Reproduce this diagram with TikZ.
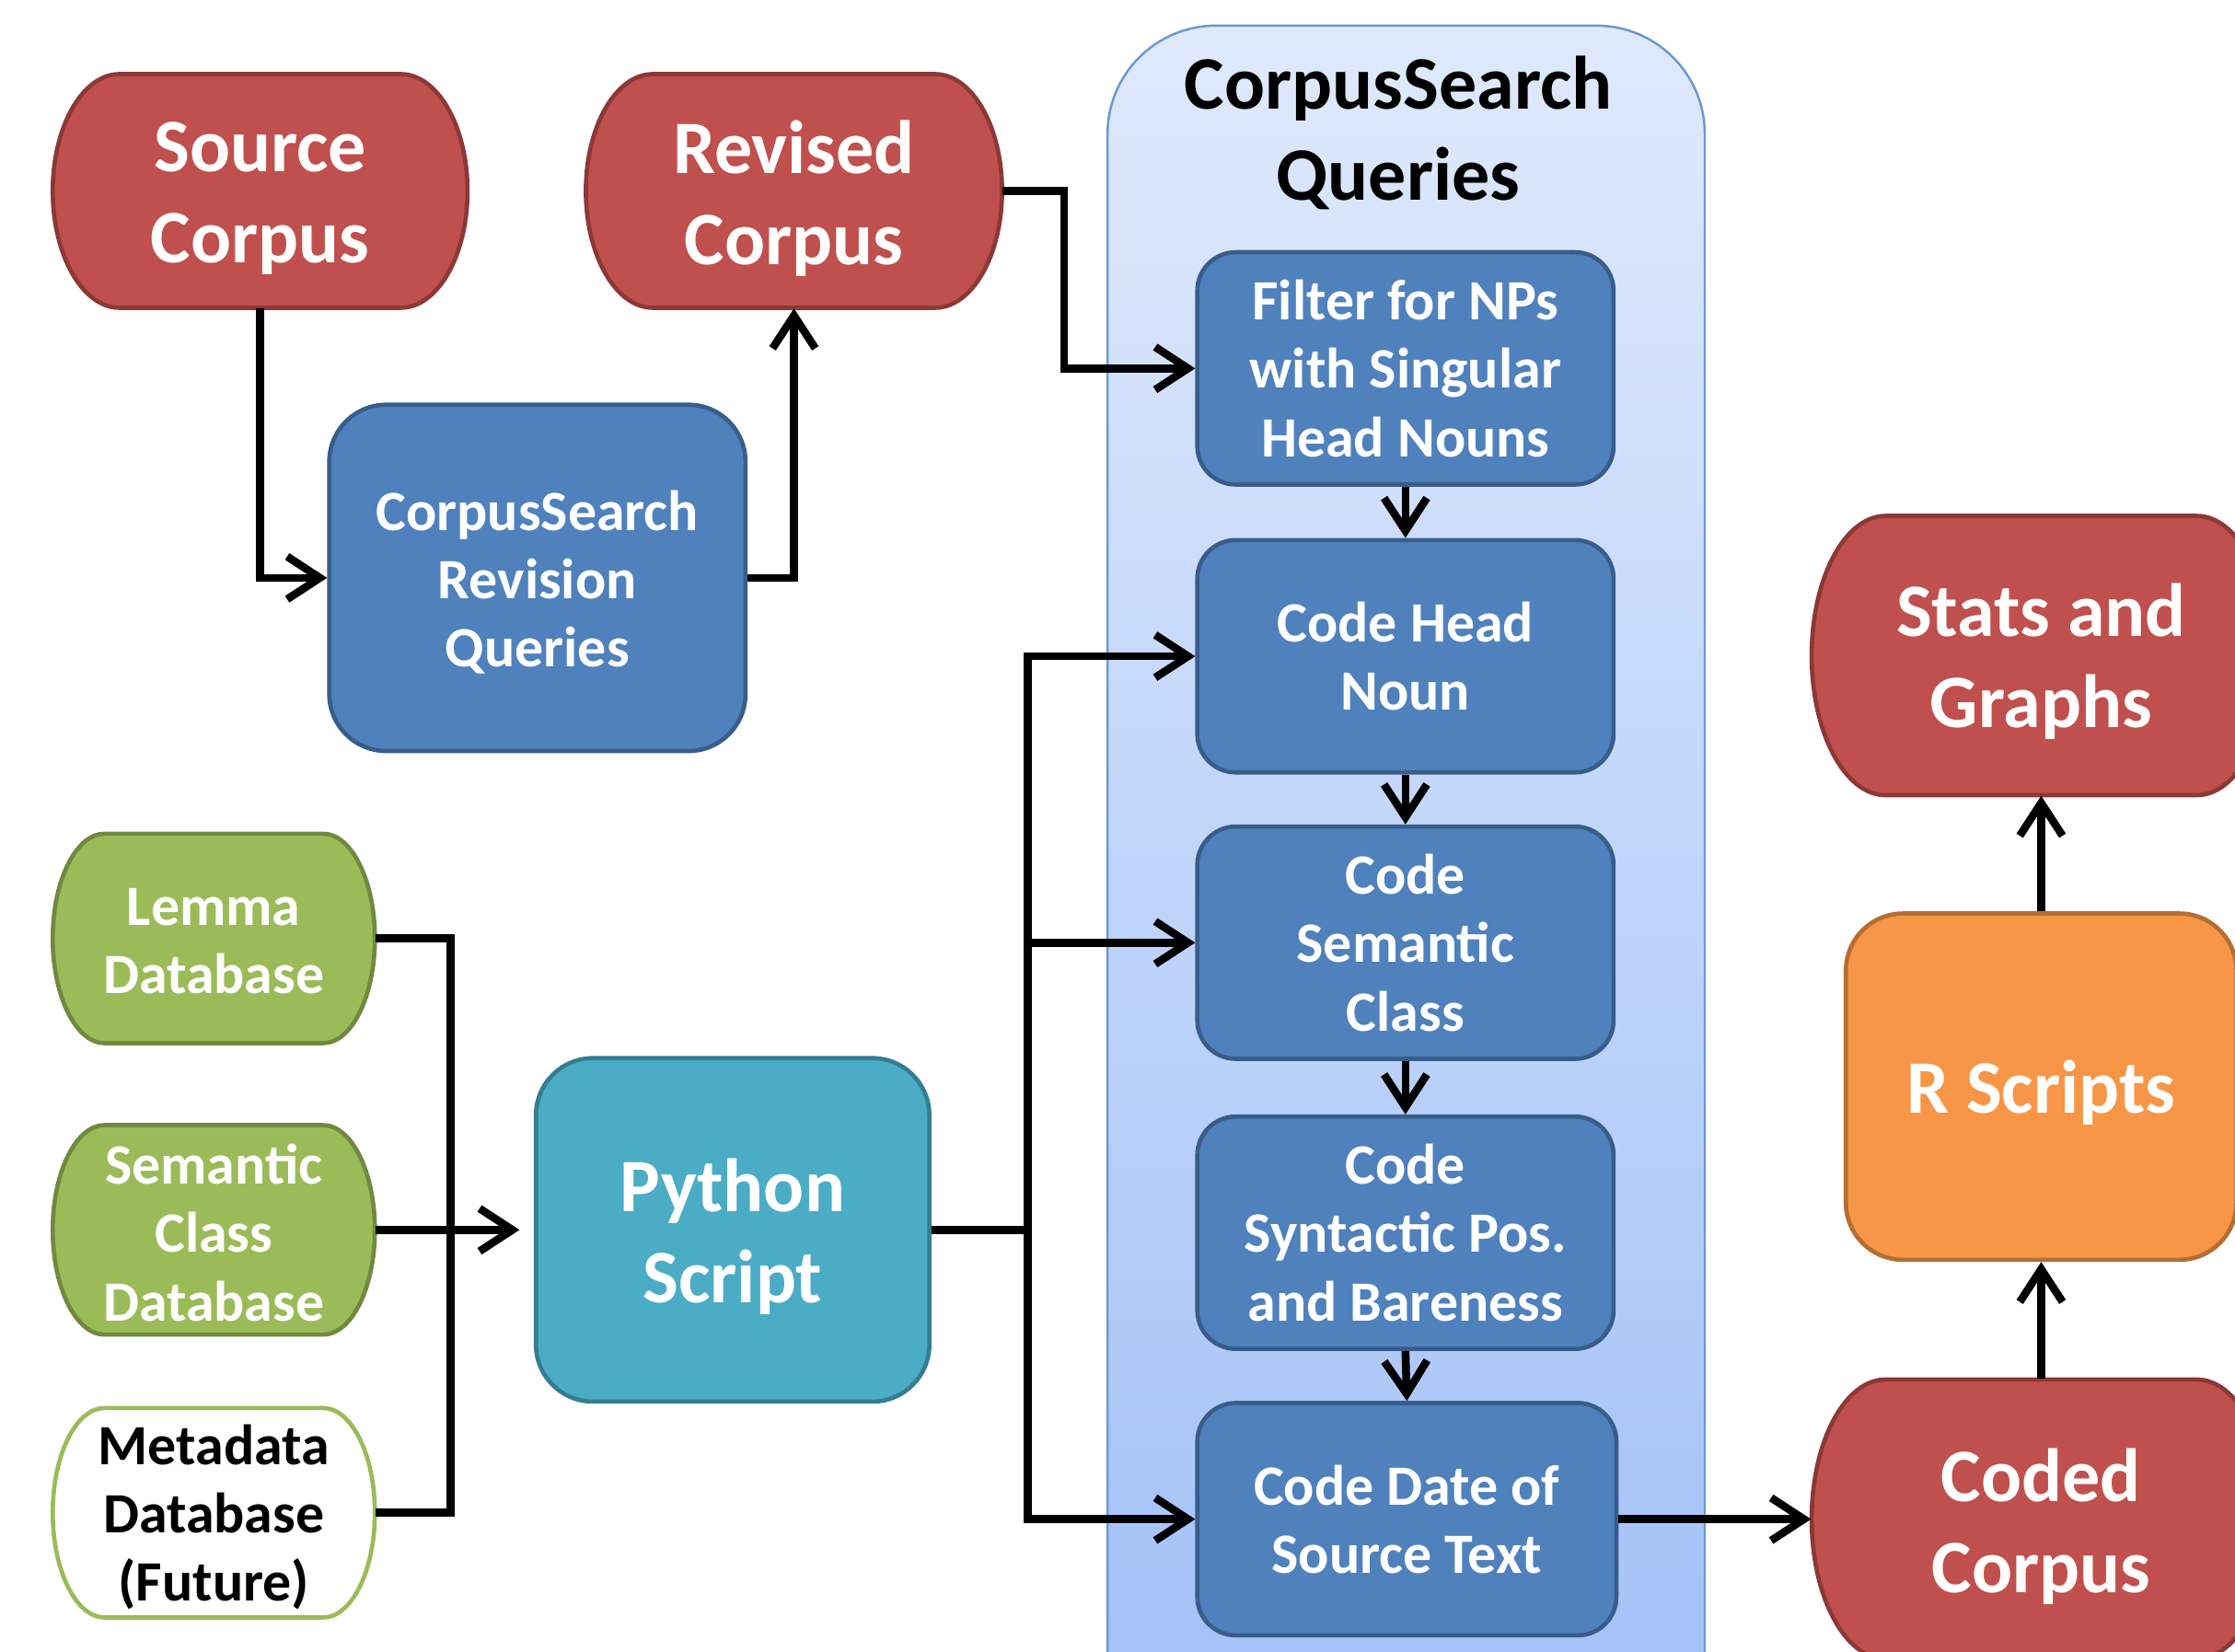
\documentclass[tikz,border=0pt]{standalone}
\usepackage{fontspec}
\setmainfont{Carlito}
\usetikzlibrary{arrows.meta}
\definecolor{cRed}{HTML}{C0504D}
\definecolor{cRedD}{HTML}{8C3836}
\definecolor{cBlue}{HTML}{4F81BD}
\definecolor{cBlueD}{HTML}{385D8A}
\definecolor{cGreen}{HTML}{9BBB59}
\definecolor{cGreenD}{HTML}{71893F}
\definecolor{cTeal}{HTML}{4BACC6}
\definecolor{cTealD}{HTML}{357D91}
\definecolor{cOrange}{HTML}{F79646}
\definecolor{cOrangeD}{HTML}{B66D31}
\definecolor{cContTop}{HTML}{DFE9FC}
\definecolor{cContBot}{HTML}{A0C0F7}
\definecolor{cContD}{HTML}{6A99D3}
\newcommand\fbig{\fontsize{26.5}{32}\selectfont\bfseries}
\newcommand\fsmall{\fontsize{20}{24}\selectfont\bfseries}
% terminator shape + empty node: #1 name, #2 shape style, #3 cx, #4 cy, #5 w, #6 h
\newcommand\termnode[6]{%
 \pgfmathsetmacro\tsL{#3-#5/2}\pgfmathsetmacro\tsR{#3+#5/2}%
 \pgfmathsetmacro\tsT{#4-#6/2}\pgfmathsetmacro\tsB{#4+#6/2}%
 \pgfmathsetmacro\tsrx{0.161*#5}\pgfmathsetmacro\tsry{#6/2}%
 \pgfmathsetmacro\tsa{\tsL+\tsrx}\pgfmathsetmacro\tsb{\tsR-\tsrx}%
 \pgfmathsetmacro\tskx{0.5523*\tsrx}\pgfmathsetmacro\tsky{0.5523*\tsry}%
 \path[#2] (\tsa,\tsT) -- (\tsb,\tsT)
   .. controls ({\tsb+\tskx},\tsT) and (\tsR,{#4-\tsky}) .. (\tsR,#4)
   .. controls (\tsR,{#4+\tsky}) and ({\tsb+\tskx},\tsB) .. (\tsb,\tsB)
   -- (\tsa,\tsB)
   .. controls ({\tsa-\tskx},\tsB) and (\tsL,{#4+\tsky}) .. (\tsL,#4)
   .. controls (\tsL,{#4-\tsky}) and ({\tsa-\tskx},\tsT) .. (\tsa,\tsT) -- cycle;
 \node[inner sep=0pt, minimum width={#5*0.5pt}, minimum height={#6*0.5pt}] (#1) at (#3,#4) {};}
% text of a box: #1 box name, #2 style, #3 shift, #4 text
\newcommand\boxtext[4]{\node[txt,#2] (#1-t) at ([yshift=#3]#1.center) {#4};}
\begin{document}
\begin{tikzpicture}[x=0.5pt,y=-0.5pt,
  txt/.style={inner sep=0pt, align=center, text=white},
  redsh/.style={fill=cRed, draw=cRedD, line width=1.5pt},
  greensh/.style={fill=cGreen, draw=cGreenD, line width=1.5pt},
  whitesh/.style={fill=white, draw=cGreen, line width=1.5pt},
  rbox/.style={inner sep=0pt, rounded corners=20pt, line width=1.5pt},
  ibox/.style={txt, fill=cBlue, draw=cBlueD, rounded corners=13.5pt, line width=1.5pt,
     minimum width=146pt, minimum height=81.5pt, font=\fsmall},
  plain/.style={line width=2.75pt, line join=miter},
  conn/.style={plain, -{Straight Barb[length=11.5pt,width=15pt]}},
]
\useasboundingbox (0,0) rectangle (1568,1159);
% container
\path[top color=cContTop, bottom color=cContBot, draw=cContD, line width=0.8pt, rounded corners=38pt]
  (777,18) rectangle (1196,1240);
\node[txt, text=black, font=\fbig] (title) at (981,93) {CorpusSearch\\Queries};
% red terminators
\termnode{src}{redsh}{182.5}{134}{291}{164}
\boxtext{src}{font=\fbig}{-2.5pt}{Source\\Corpus}
\termnode{rev}{redsh}{557}{134}{292}{164}
\boxtext{rev}{font=\fbig}{-2.5pt}{Revised\\Corpus}
\termnode{stats}{redsh}{1432}{460}{322}{196}
\boxtext{stats}{font=\fbig}{-2pt}{Stats and\\Graphs}
\termnode{coded}{redsh}{1432}{1066}{322}{196}
\boxtext{coded}{font=\fbig}{-2.5pt}{Coded\\Corpus}
% green terminators
\termnode{lemma}{greensh}{150}{658.5}{226}{147}
\boxtext{lemma}{font=\fsmall}{-1pt}{Lemma\\Database}
\termnode{scdb}{greensh}{150}{863}{226}{147}
\boxtext{scdb}{font=\fsmall}{-1pt}{Semantic\\Class\\Database}
\termnode{meta}{whitesh}{150}{1061.5}{226}{147}
\boxtext{meta}{font=\fsmall, text=black}{-1.5pt}{Metadata\\Database\\(Future)}
% rounded boxes
\node[rbox, fill=cBlue, draw=cBlueD, minimum width=146pt, minimum height=121.5pt] (csrq) at (377,405.5) {};
\boxtext{csrq}{font=\fsmall}{-1.5pt}{CorpusSearch\\Revision\\Queries}
\node[rbox, fill=cTeal, draw=cTealD, minimum width=138pt, minimum height=120.5pt] (py) at (514,863) {};
\boxtext{py}{font=\fbig}{-2.5pt}{Python\\Script}
\node[rbox, fill=cOrange, draw=cOrangeD, minimum width=137pt, minimum height=121.5pt] (rs) at (1432,762.5) {};
\boxtext{rs}{font=\fbig}{-2pt}{R Scripts}
% inner query boxes
\node[ibox] (filt) at (986,258.5) {Filter for NPs\\with Singular\\Head Nouns};
\node[ibox] (head) at (986,460.5) {Code Head\\Noun};
\node[ibox] (sem) at (986,661.5) {Code\\Semantic\\Class};
\node[ibox] (syn) at (986,865) {Code\\Syntactic Pos.\\and Bareness};
\node[ibox, minimum width=147pt] (date) at (987,1066) {Code Date of\\Source Text};
% connectors
\draw[conn] (src.south) |- (csrq.west);
\draw[conn] (csrq.east) -| (rev.south);
\draw[conn] (rev.east) -- ++(43,0) |- (filt.west);
\draw[conn] (filt.south) -- (head.north);
\draw[conn] (head.south) -- (sem.north);
\draw[conn] (sem.south) -- (syn.north);
\draw[conn] (syn.south) -- (date.north);
\coordinate (lbus) at (316,863);
\draw[plain] (lemma.east) -| (lbus);
\draw[plain] (meta.east) -| (lbus);
\draw[conn, shorten >=5pt] (scdb.east) -- (py.west);
\coordinate (rbus) at (721,863);
\draw[plain] (py.east) -- (rbus);
\draw[conn] (rbus) |- (head.west);
\draw[conn] (rbus) |- (sem.west);
\draw[conn] (rbus) |- (date.west);
\draw[conn] (date.east) -- (coded.west);
\draw[conn] (coded.north) -- (rs.south);
\draw[conn] (rs.north) -- (stats.south);
\end{tikzpicture}
\end{document}
